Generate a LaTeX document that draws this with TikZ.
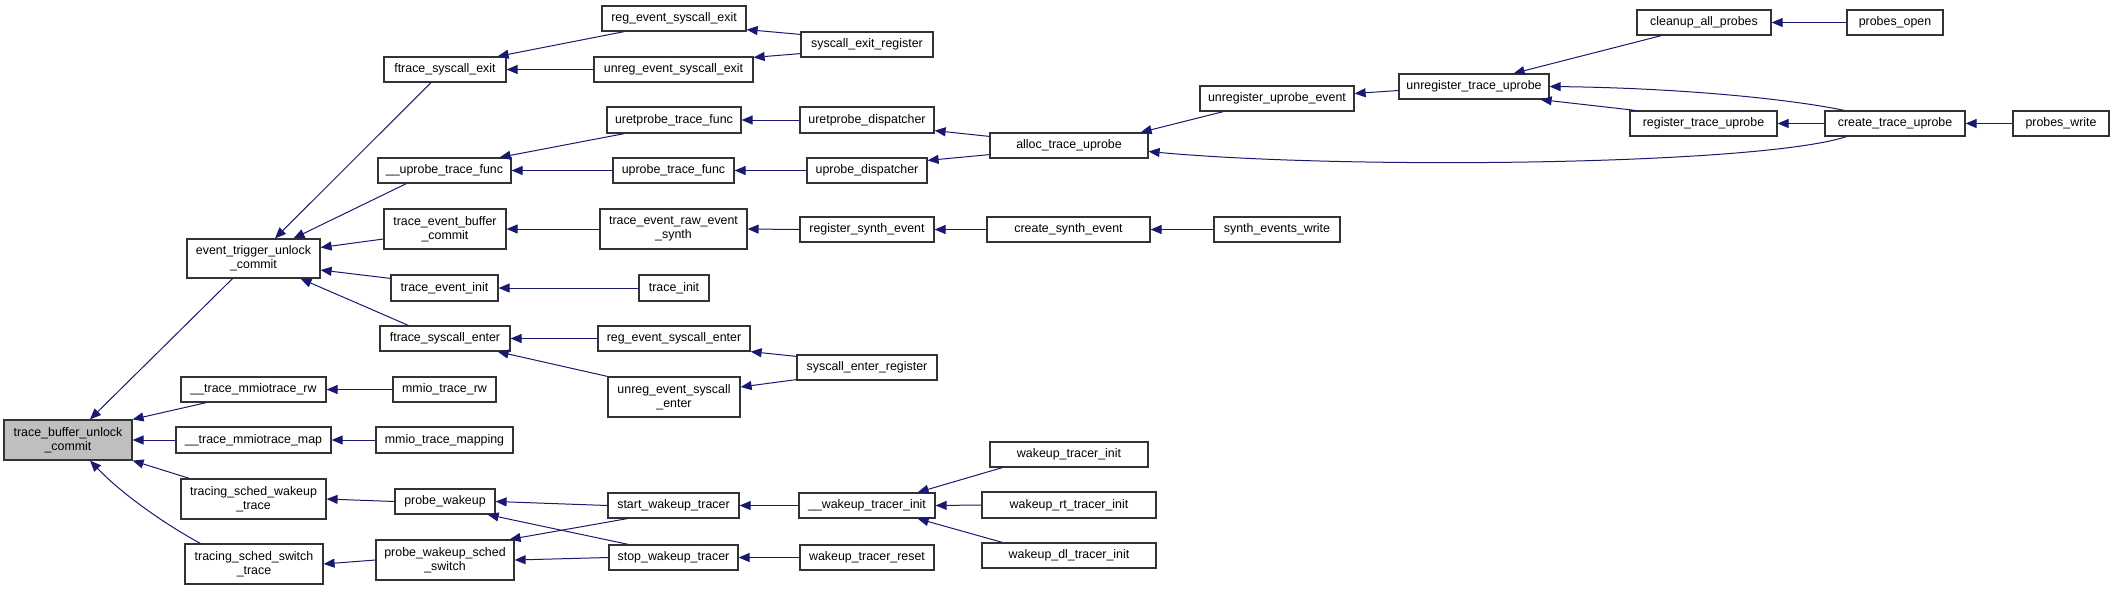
\documentclass[tikz,border=0pt]{standalone}
\usepackage{fontspec}
\setmainfont{Liberation Sans}
\usetikzlibrary{arrows.meta}
\definecolor{edgeblue}{HTML}{191970}
\definecolor{boxline}{HTML}{333333}
\definecolor{hilite}{HTML}{BFBFBF}
\newcommand{\fsz}{\fontsize{6.2}{7.2}\selectfont}
\tikzset{
  box/.style={draw=boxline, line width=0.6pt, fill=white, inner sep=0pt, align=center, font=\fsz},
  callarrow/.style={draw=edgeblue, line width=0.5pt, -{Triangle[length=5.5pt,width=4.5pt]}}
}
\newcommand{\mkbox}[7][]{\node[box,#1, minimum width={(#5-#3)*0.5pt}, minimum height={(#6-#4)*0.5pt}] (#2) at ({(#3+#5)/2},{(#4+#6)/2}) {#7};}
\begin{document}
\begin{tikzpicture}[x=0.5pt,y=-0.5pt]
\useasboundingbox (0,0) rectangle (2115,590);
% nodes
\mkbox[fill=hilite]{tbuc}{4}{420}{132}{460}{trace\_buffer\_unlock\\\_commit}
\mkbox{etuc}{187}{239}{320}{278}{event\_trigger\_unlock\\\_commit}
\mkbox{tmrw}{181}{377}{326}{402}{\_\_trace\_mmiotrace\_rw}
\mkbox{tmmap}{176}{427}{331}{453}{\_\_trace\_mmiotrace\_map}
\mkbox{tswt}{181}{479}{326}{519}{tracing\_sched\_wakeup\\\_trace}
\mkbox{tsst}{185}{544}{323}{584}{tracing\_sched\_switch\\\_trace}
\mkbox{fse}{384}{57}{506}{82}{ftrace\_syscall\_exit}
\mkbox{utf}{378}{158}{511}{183}{\_\_uprobe\_trace\_func}
\mkbox{tebc}{384}{209}{506}{249}{trace\_event\_buffer\\\_commit}
\mkbox{tei}{391}{275}{498}{301}{trace\_event\_init}
\mkbox{fsen}{380}{326}{510}{351}{ftrace\_syscall\_enter}
\mkbox{mtrw}{393}{377}{496}{402}{mmio\_trace\_rw}
\mkbox{mtm}{376}{427}{513}{453}{mmio\_trace\_mapping}
\mkbox{pw}{395}{489}{495}{514}{probe\_wakeup}
\mkbox{pwss}{376}{540}{514}{580}{probe\_wakeup\_sched\\\_switch}
\mkbox{resx}{602}{6}{746}{31}{reg\_event\_syscall\_exit}
\mkbox{uresx}{594}{57}{753}{82}{unreg\_event\_syscall\_exit}
\mkbox{sxr}{801}{32}{933}{57}{syscall\_exit\_register}
\mkbox{urtf}{607}{107}{741}{133}{uretprobe\_trace\_func}
\mkbox{uptf}{613}{158}{734}{183}{uprobe\_trace\_func}
\mkbox{urd}{800}{107}{934}{133}{uretprobe\_dispatcher}
\mkbox{upd}{807}{158}{927}{183}{uprobe\_dispatcher}
\mkbox{atu}{990}{133}{1148}{158}{alloc\_trace\_uprobe}
\mkbox{terse}{600}{209}{747}{249}{trace\_event\_raw\_event\\\_synth}
\mkbox{rse}{800}{217}{934}{242}{register\_synth\_event}
\mkbox{cse}{987}{217}{1150}{242}{create\_synth\_event}
\mkbox{sew}{1214}{217}{1340}{242}{synth\_events\_write}
\mkbox{ti}{639}{275}{709}{301}{trace\_init}
\mkbox{rese}{598}{326}{750}{351}{reg\_event\_syscall\_enter}
\mkbox{urese}{608}{377}{740}{417}{unreg\_event\_syscall\\\_enter}
\mkbox{ser}{797}{355}{937}{380}{syscall\_enter\_register}
\mkbox{swt}{608}{493}{739}{518}{start\_wakeup\_tracer}
\mkbox{stwt}{609}{545}{738}{570}{stop\_wakeup\_tracer}
\mkbox{wti}{799}{493}{935}{518}{\_\_wakeup\_tracer\_init}
\mkbox{wtr}{800}{545}{934}{570}{wakeup\_tracer\_reset}
\mkbox{wtinit}{990}{442}{1148}{467}{wakeup\_tracer\_init}
\mkbox{wrti}{982}{492}{1156}{518}{wakeup\_rt\_tracer\_init}
\mkbox{wdti}{982}{543}{1156}{568}{wakeup\_dl\_tracer\_init}
\mkbox{uue}{1200}{86}{1354}{111}{unregister\_uprobe\_event}
\mkbox{utu}{1399}{74}{1549}{99}{unregister\_trace\_uprobe}
\mkbox{cap}{1637}{10}{1771}{35}{cleanup\_all\_probes}
\mkbox{po}{1847}{10}{1943}{35}{probes\_open}
\mkbox{rtu}{1630}{111}{1777}{136}{register\_trace\_uprobe}
\mkbox{ctu}{1825}{111}{1965}{136}{create\_trace\_uprobe}
\mkbox{pwr}{2013}{111}{2109}{136}{probes\_write}
% edges into trace_buffer_unlock_commit
\draw[callarrow] ([shift={(-21,0)}]etuc.south) -- ([shift={(22,0)}]tbuc.north);
\draw[callarrow] ([shift={(26,0)}]tmrw.south west) -- (tbuc.north east);
\draw[callarrow] (tmmap.west) -- (tbuc.east);
\draw[callarrow] ([shift={(9,0)}]tswt.north west) -- (tbuc.south east);
\draw[callarrow] ([shift={(16,0)}]tsst.north west) .. controls (170,527) and (125,497) .. ([shift={(22,0)}]tbuc.south);
% edges into event_trigger_unlock_commit
\draw[callarrow] ([shift={(-14,0)}]fse.south) -- ([shift={(21.5,0)}]etuc.north);
\draw[callarrow] ([shift={(29,0)}]utf.south west) -- ([shift={(40,0)}]etuc.north);
\draw[callarrow] ([shift={(0,10)}]tebc.west) -- ([shift={(0,-11)}]etuc.east);
\draw[callarrow] ([shift={(0,4)}]tei.north west) -- ([shift={(0,11.5)}]etuc.east);
\draw[callarrow] ([shift={(29,0)}]fsen.north west) -- ([shift={(47,0)}]etuc.south);
% syscall exit
\draw[callarrow] ([shift={(23,0)}]resx.south west) -- ([shift={(-9,0)}]fse.north east);
\draw[callarrow] (uresx.west) -- (fse.east);
\draw[callarrow] ([shift={(0,3)}]sxr.north west) -- ([shift={(0,-2)}]resx.south east);
\draw[callarrow] ([shift={(0,-4)}]sxr.south west) -- ([shift={(0,1)}]uresx.north east);
% uprobe
\draw[callarrow] ([shift={(18,0)}]urtf.south west) -- ([shift={(-12,0)}]utf.north east);
\draw[callarrow] (uptf.west) -- (utf.east);
\draw[callarrow] (urd.west) -- (urtf.east);
\draw[callarrow] (upd.west) -- (uptf.east);
\draw[callarrow] ([shift={(0,4)}]atu.north west) -- ([shift={(0,-3)}]urd.south east);
\draw[callarrow] ([shift={(0,-4)}]atu.south west) -- ([shift={(0,3)}]upd.north east);
\draw[callarrow] ([shift={(24,0)}]uue.south west) -- ([shift={(-8,0)}]atu.north east);
\draw[callarrow] ([shift={(0,4)}]utu.west) -- ([shift={(0,-5)}]uue.east);
\draw[callarrow] ([shift={(25,0)}]cap.south west) -- ([shift={(-36,0)}]utu.north east);
\draw[callarrow] ([shift={(6,0)}]rtu.north west) -- ([shift={(-9,0)}]utu.south east);
\draw[callarrow] ([shift={(20,0)}]ctu.north west) .. controls (1790,99) and (1680,88) .. (utu.east);
\draw[callarrow] ([shift={(22,0)}]ctu.south west) .. controls (1760,165) and (1350,170) .. ([shift={(0,6)}]atu.east);
\draw[callarrow] (ctu.west) -- (rtu.east);
\draw[callarrow] (po.west) -- (cap.east);
\draw[callarrow] (pwr.west) -- (ctu.east);
% synth
\draw[callarrow] (terse.west) -- (tebc.east);
\draw[callarrow] (rse.west) -- (terse.east);
\draw[callarrow] (cse.west) -- (rse.east);
\draw[callarrow] (sew.west) -- (cse.east);
\draw[callarrow] (ti.west) -- (tei.east);
% syscall enter
\draw[callarrow] (rese.west) -- (fsen.east);
\draw[callarrow] (urese.north west) -- ([shift={(-13,0)}]fsen.south east);
\draw[callarrow] ([shift={(0,2)}]ser.north west) -- (rese.south east);
\draw[callarrow] ([shift={(0,-1)}]ser.south west) -- ([shift={(0,-10)}]urese.east);
% mmio
\draw[callarrow] (mtrw.west) -- (tmrw.east);
\draw[callarrow] (mtm.west) -- (tmmap.east);
% wakeup
\draw[callarrow] (pw.west) -- (tswt.east);
\draw[callarrow] (pwss.west) -- (tsst.east);
\draw[callarrow] (swt.west) -- (pw.east);
\draw[callarrow] ([shift={(20,0)}]swt.south west) -- ([shift={(-5,0)}]pwss.north east);
\draw[callarrow] ([shift={(20,0)}]stwt.north west) -- ([shift={(-8,0)}]pw.south east);
\draw[callarrow] (stwt.west) -- (pwss.east);
\draw[callarrow] (wti.west) -- (swt.east);
\draw[callarrow] (wtr.west) -- (stwt.east);
\draw[callarrow] ([shift={(13,0)}]wtinit.south west) -- ([shift={(-18,0)}]wti.north east);
\draw[callarrow] (wrti.west) -- (wti.east);
\draw[callarrow] ([shift={(21,0)}]wdti.north west) -- ([shift={(-18,0)}]wti.south east);
\end{tikzpicture}
\end{document}
